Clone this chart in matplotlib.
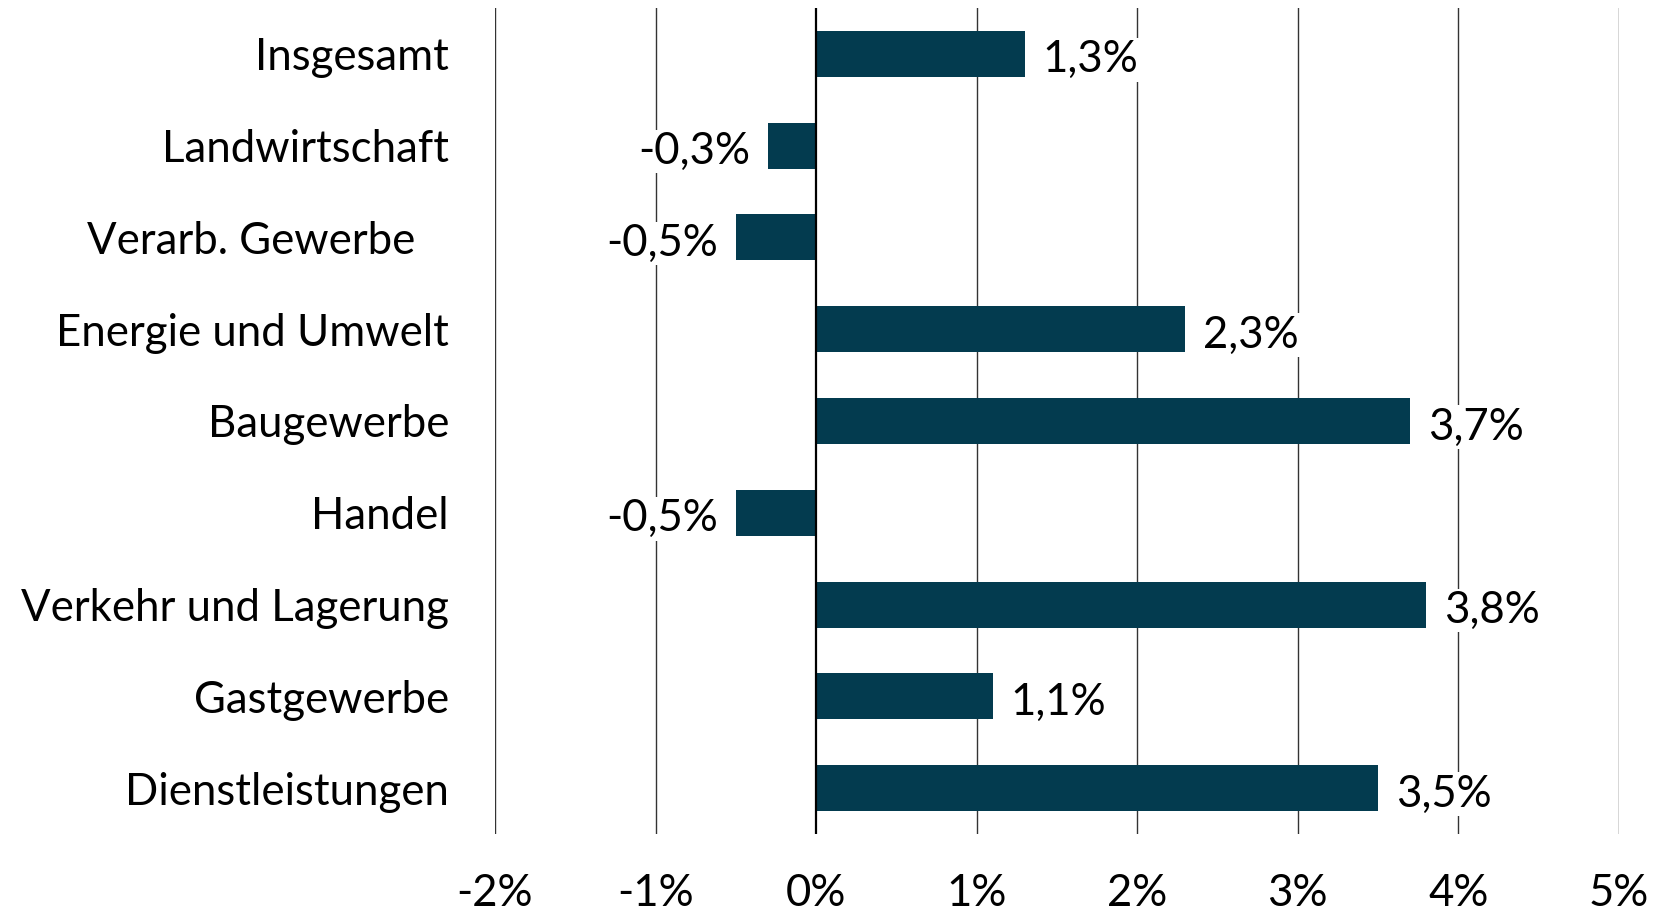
import matplotlib
matplotlib.use("Agg")
import matplotlib.pyplot as plt

categories = ["Insgesamt", "Landwirtschaft", "Verarb. Gewerbe   ", "Energie und Umwelt",
              "Baugewerbe", "Handel", "Verkehr und Lagerung", "Gastgewerbe", "Dienstleistungen"]
values = [1.3, -0.3, -0.5, 2.3, 3.7, -0.5, 3.8, 1.1, 3.5]
value_labels = ["1,3%", "-0,3%", "-0,5%", "2,3%", "3,7%", "-0,5%", "3,8%", "1,1%", "3,5%"]
xticks = [-2, -1, 0, 1, 2, 3, 4, 5]
xtick_labels = ["-2%", "-1%", "0%", "1%", "2%", "3%", "4%", "5%"]

plt.rcParams['font.family'] = ['Lato', 'DejaVu Sans']

fig = plt.figure(figsize=(16.62, 9.15), dpi=100)
ax = fig.add_axes([0.2978, 0.0885, 0.9741 - 0.2978, 0.9913 - 0.0885])

y = list(range(len(categories)))
ax.barh(y, values, height=0.5, color="#033b4f", zorder=2)

ax.set_xlim(-2, 5)
ax.set_ylim(len(categories) - 0.5, -0.5)

for xv in xticks:
    if xv == 0:
        ax.axvline(xv, color="black", lw=1.6, zorder=3)
    else:
        ax.axvline(xv, color="#333333", lw=1.0, zorder=1)

fs = 31.5
for yi, v, lab in zip(y, values, value_labels):
    if v >= 0:
        ax.annotate(lab, (v, yi), xytext=(18, -2), textcoords="offset pixels",
                    ha="left", va="center_baseline", fontsize=fs, color="black", zorder=4,
                    bbox=dict(facecolor="white", edgecolor="none", pad=1))
    else:
        ax.annotate(lab, (v, yi), xytext=(-18, -2), textcoords="offset pixels",
                    ha="right", va="center_baseline", fontsize=fs, color="black", zorder=4,
                    bbox=dict(facecolor="white", edgecolor="none", pad=1))

ax.set_yticks(y)
ax.set_yticklabels(categories, fontsize=fs)
ax.set_xticks(xticks)
ax.set_xticklabels(xtick_labels, fontsize=fs)
ax.tick_params(axis="y", length=0, pad=33)
ax.tick_params(axis="x", length=0, pad=28)
for s in ax.spines.values():
    s.set_visible(False)

fig.savefig("out.png", dpi=100, facecolor="white")
